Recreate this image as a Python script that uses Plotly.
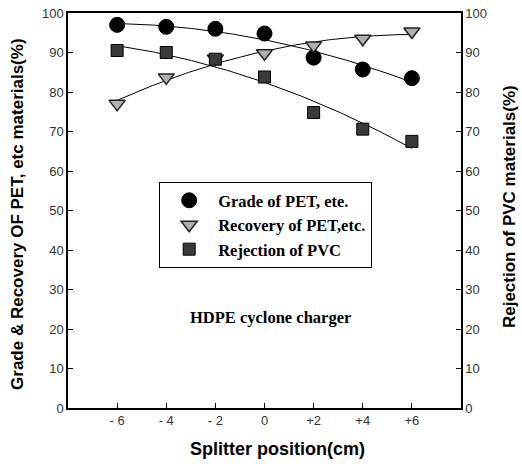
import numpy as np
import plotly.graph_objects as go

positions = [-6, -4, -2, 0, 2, 4, 6]
tick_labels = ["- 6", "- 4", "- 2", "0", "+2", "+4", "+6"]
grade_pet = [97.0, 96.5, 96.0, 94.8, 88.7, 85.7, 83.5]
recovery_pet = [77.0, 83.7, 88.5, 89.8, 91.8, 93.5, 95.3]
rejection_pvc = [90.5, 90.0, 88.3, 83.8, 74.8, 70.6, 67.5]
y_ticks = list(range(0, 101, 10))

fig = go.Figure()

# quadratic regression curves of each series (as in the original)
xf = np.linspace(min(positions), max(positions), 100)
for vals, ax in [(grade_pet, "y"), (recovery_pet, "y"), (rejection_pvc, "y2")]:
    c = np.polyfit(positions, vals, 2)
    fig.add_trace(go.Scatter(x=xf, y=np.polyval(c, xf), mode="lines",
                             line=dict(color="black", width=1), showlegend=False,
                             hoverinfo="skip", yaxis=ax))

fig.add_trace(go.Scatter(x=positions, y=grade_pet, mode="markers", name="Grade of PET, ete.",
                         marker=dict(symbol="circle", size=15, color="black",
                                     line=dict(color="black", width=1))))
fig.add_trace(go.Scatter(x=positions, y=recovery_pet, mode="markers", name="Recovery of PET,etc.",
                         marker=dict(symbol="triangle-down", size=14, color="#b0b0b0",
                                     line=dict(color="#222", width=1.5))))
fig.add_trace(go.Scatter(x=positions, y=rejection_pvc, mode="markers", name="Rejection of PVC",
                         yaxis="y2",
                         marker=dict(symbol="square", size=12, color="#3a3a3a",
                                     line=dict(color="black", width=1))))

tickfont = dict(family="Liberation Sans, Arial", size=13, color="#333")
titlefont = dict(family="Liberation Sans, Arial", size=17, color="black", weight="bold")
xtitlefont = dict(family="Liberation Sans, Arial", size=18, color="black", weight="bold")

fig.update_layout(
    width=522, height=466,
    margin=dict(l=68, r=61, t=13, b=58),
    paper_bgcolor="white", plot_bgcolor="white",
    xaxis=dict(range=[-8, 8], tickvals=positions, ticktext=tick_labels, automargin=False,
               ticks="inside", ticklen=5, tickcolor="black", tickwidth=1,
               showline=True, linecolor="black", linewidth=1.5, mirror=True,
               showgrid=False, zeroline=False, tickfont=tickfont),
    yaxis=dict(range=[0, 100], tickvals=y_ticks, ticks="inside", ticklen=5, automargin=False,
               tickcolor="black", tickwidth=1, showline=True, linecolor="black",
               linewidth=1.5, showgrid=False, zeroline=False, tickfont=tickfont),
    yaxis2=dict(range=[0, 100], tickvals=y_ticks, overlaying="y", side="right", automargin=False,
                ticks="inside", ticklen=5, tickcolor="black", tickwidth=1,
                showline=True, linecolor="black", linewidth=1.5, showgrid=False,
                zeroline=False, tickfont=tickfont),
    legend=dict(x=0.232, y=0.572, xanchor="left", yanchor="top",
                bordercolor="black", borderwidth=1, bgcolor="white",
                font=dict(family="Liberation Serif, Times New Roman", size=16.5, color="black",
                          weight="bold"),
                itemwidth=48, tracegroupgap=0),
    showlegend=True,
    annotations=[
        dict(x=0.25, y=23, xref="x", yref="y", text="<b>HDPE cyclone charger</b>",
             showarrow=False,
             font=dict(family="Liberation Serif, Times New Roman", size=16.5, color="black")),
        dict(x=0.532, y=-0.104, xref="paper", yref="paper", text="Splitter position(cm)",
             showarrow=False, xanchor="center", yanchor="middle", font=xtitlefont),
        dict(x=-0.127, y=0.489, xref="paper", yref="paper",
             text="Grade & Recovery OF PET, etc materials(%)", textangle=-90,
             showarrow=False, xanchor="center", yanchor="middle", font=titlefont),
        dict(x=1.125, y=0.509, xref="paper", yref="paper",
             text="Rejection of PVC materials(%)", textangle=-90,
             showarrow=False, xanchor="center", yanchor="middle", font=titlefont),
    ],
)

fig.write_html("out.html")
